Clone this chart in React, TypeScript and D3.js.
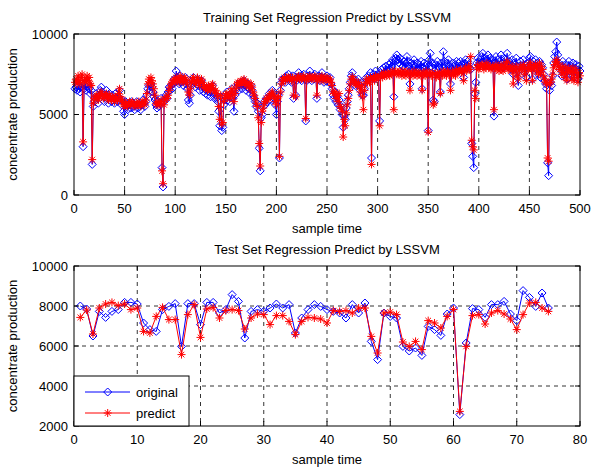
import React from "react";
import * as d3 from "d3";

// ---------- Training set (500 samples) ----------
const trainOriginal: number[] = [
  6600,6700,6500,6800,6600,6400,6700,6900,3000,6600,
  6800,6500,6700,6900,6600,6300,6500,1900,5500,5800,
  6000,6300,6100,5700,6200,6500,6700,6400,6100,5800,
  6200,6500,6000,5700,6300,6100,5800,6200,6000,5700,
  6300,6000,5800,6100,6500,5900,5600,5900,5200,5000,
  5800,5500,5300,5700,5600,5400,5800,5700,5500,5300,
  5600,5800,5400,5700,5500,5300,5600,5900,5700,5500,
  5800,6200,6600,6800,6500,6900,6700,6400,6100,5900,
  5600,5400,5800,5500,5700,6000,1700,500,5800,6000,
  6200,6000,6400,6700,6500,6800,6600,6900,7200,7000,
  7700,7300,7100,6900,7400,7000,7200,6800,7100,7300,
  6900,6600,5900,5700,6200,6800,7100,7300,7000,6700,
  7000,7200,6800,6500,7000,7100,6800,6400,6600,6300,
  6500,6200,6700,6400,6100,6500,6800,6300,6000,6200,
  6000,5800,5200,4300,6100,4000,4200,5600,5900,6100,
  6400,5900,6200,5800,6300,6600,6000,5200,6200,6500,
  6700,6900,6500,6800,7000,6600,6900,7100,6800,6500,
  6700,6900,6600,6300,6800,6500,6200,6000,5800,5500,
  5700,5200,2900,1500,4800,5000,5500,5800,5600,6000,
  5800,6100,6300,5900,6200,6500,6300,6000,5600,5000,
  5800,6200,2300,6500,7000,7200,7100,7300,7000,7400,
  7200,7500,7100,7300,7000,7400,6000,7200,6200,7100,
  7300,7600,7200,7400,7100,7300,7500,7200,4600,7100,
  7400,7200,7700,7300,7100,7400,7200,7500,7300,6000,
  7200,7400,7100,7300,7600,7200,7000,7300,7100,7400,
  7200,7000,7300,6900,6600,6200,6000,6400,5800,6100,
  5600,5900,5300,5500,5000,4200,4900,4700,5400,5800,
  6200,6600,7000,7400,7600,7200,7000,6800,7100,6900,
  7200,6800,6500,7000,6200,6200,6600,7000,7300,7100,
  7400,7200,7600,2300,7300,7500,7200,7700,7400,7500,
  7300,4600,7600,7800,7500,7900,7600,8000,7700,7900,
  8100,7800,8200,8000,8400,6100,8300,8500,8700,8400,
  8200,8500,8100,8400,8000,8300,7900,8200,8600,8300,
  8000,6900,8200,7800,8100,8400,8000,7700,8200,7900,
  8100,7800,8300,6600,7900,8200,8000,7700,8100,4000,
  8400,8800,8000,8200,5900,5800,8100,7800,8300,8000,
  7900,6400,8200,7900,8900,8300,8000,7800,8200,8400,
  8000,6900,7800,8200,8000,7700,8100,8300,7900,8200,
  8000,8300,8100,7900,7300,8200,8400,8000,8300,8100,
  7900,7800,3200,2400,1700,6300,7000,8200,8500,8100,
  8400,8200,8600,8800,8300,8500,8100,8400,8700,8200,
  8500,8300,8000,8400,4900,8200,8600,8100,8400,8000,
  8300,8700,8200,7900,8500,8100,8400,8800,8000,8300,
  8100,7800,8400,7500,8200,7900,8500,7300,6800,8000,
  8300,7800,8000,8400,7600,8100,7300,8200,8000,8500,
  8600,8000,7200,8300,7900,8400,7800,8200,7500,8300,
  7300,8100,7900,7500,7100,6900,6600,2000,1200,6500,
  7000,6800,7400,8200,8600,8900,9500,8700,8200,7800,
  8000,7400,8300,7800,7500,8100,7200,7900,8300,7700,
  8000,7500,8200,7300,7900,8100,7600,7200,8000,7700,
];

const trainPredict: number[] = [
  7000,7200,6900,7400,7100,6900,7300,7500,3300,7100,
  7200,7000,7400,7100,7300,6900,6800,2200,5700,6000,
  6100,6200,6000,5900,6100,6300,6400,6200,6000,6100,
  6200,6300,6000,5900,6200,6100,5900,6100,6000,5800,
  6100,6000,5900,6300,6600,6100,5800,5900,5600,5500,
  5700,5600,5500,5700,5800,5600,5700,5800,5600,5500,
  5600,5700,5600,5800,5600,5500,5700,5800,5700,5600,
  5900,6300,6900,7200,7000,7300,7100,6900,6600,6200,
  5700,5600,5800,5600,5700,5900,1500,700,5600,5900,
  6100,6000,6200,6500,6700,6900,7000,7100,7200,7000,
  7300,7100,7200,7000,7400,7200,7100,7000,7300,7200,
  7100,6900,6400,6200,6600,7000,7200,7300,7100,6900,
  7100,7300,7000,6800,7100,7200,7000,6700,6800,6600,
  6700,6500,6800,6700,6500,6800,6900,6600,6400,6500,
  6300,6100,5500,4700,6200,4400,4500,5800,6000,6200,
  6300,6100,6200,6000,6400,6600,6200,5800,6300,6600,
  6900,7000,6800,7000,7100,6900,7100,7200,7000,6800,
  6900,7000,6800,6600,6900,6700,6400,6200,6000,5700,
  5500,4800,3200,1800,4500,5200,5400,5700,5800,6000,
  5900,6000,6200,6100,6300,6400,6200,6100,5800,5600,
  6000,6100,2400,6400,6900,7200,7100,7300,7100,7300,
  7200,7300,7200,7300,7100,7300,6200,7200,6100,7200,
  7300,7400,7200,7300,7200,7300,7400,7200,4750,7200,
  7300,7200,7400,7300,7200,7300,7200,7400,7300,6200,
  7200,7300,7100,7300,7400,7200,7100,7300,7200,7300,
  7200,7100,7200,7000,6800,6400,6300,6400,6000,6200,
  5800,6300,5500,5400,5200,3600,4700,4300,5100,5600,
  6000,6500,6900,7200,7350,7200,7000,6900,7000,6800,
  7000,6700,6400,6800,6100,5300,6500,6900,7200,7000,
  7200,7000,7300,1900,7200,7300,7100,7400,7300,7300,
  7300,4300,7400,7500,7300,7600,7400,7500,7400,7600,
  7500,7400,7600,7500,7700,5300,7600,7700,7500,7600,
  7500,7700,7600,7400,7700,7500,7600,7400,7700,7500,
  7600,6500,7500,7600,7400,7700,7500,7600,7400,7600,
  7500,7600,7400,6500,7600,7500,7400,7700,7500,3900,
  7600,7500,7400,7600,5600,5700,7500,7300,7600,7400,
  7500,6300,7600,7400,7700,7500,7600,7400,7700,7600,
  7500,6500,7400,7700,7500,7600,7400,7800,7600,7700,
  7700,7800,7600,7700,7100,7800,7900,7700,7800,8000,
  7800,8600,3400,3000,2800,6500,6000,7900,8100,7800,
  7900,8000,8100,8100,7800,8000,7900,8200,8000,7900,
  8000,7800,7900,8000,5300,7900,8100,7800,8000,7700,
  7900,8100,7800,7700,8000,7900,8200,8300,7800,8000,
  7900,7700,8000,6900,7800,7700,8000,7400,7200,7700,
  8000,7800,7900,8100,7500,7900,7100,7900,7800,8100,
  8200,7800,7100,8000,7900,8100,7700,8000,7500,8200,
  7600,8000,7800,7400,7200,7000,6900,2300,2100,6900,
  7000,7200,7500,7900,8100,8300,8400,8200,8000,7800,
  7800,7500,8000,7600,7300,7900,7100,7700,7900,7600,
  7700,7200,7900,7100,7600,7800,7300,7000,7600,7400,
];

// ---------- Test set (75 samples) ----------
const testOriginal: number[] = [
  8000,7850,6500,7730,7430,7730,7820,8180,8180,8100,
  7150,6820,6730,7820,7980,8120,5980,8120,8120,7070,
  8180,8180,7650,7820,8570,8230,6400,7730,7820,7730,
  7900,8100,7900,8070,6650,7400,7820,8070,7980,7820,
  7730,7650,7400,8070,7650,8150,6230,5320,7650,7480,
  7400,5980,5750,5900,5530,6980,6820,6530,7600,7900,
  2570,6150,7870,7820,7430,8070,8070,8230,7600,7270,
  8770,8430,7980,8650,7900,
];
const testPredict: number[] = [
  7430,7800,6600,7900,8100,8180,8020,8100,7820,7900,
  6730,6650,7480,7930,7320,7320,5570,7570,8070,6430,
  7850,7920,7400,7770,7820,7770,6850,7400,7600,7570,
  7070,7520,7520,7230,6570,7230,7430,7400,7350,7150,
  7770,7730,7770,7650,7900,7900,6480,5650,7650,7700,
  7570,6200,5980,6230,5820,7270,7150,6900,7480,7820,
  2730,5980,7520,7570,7100,7650,7770,7600,7350,6820,
  7570,8150,8180,7900,7730,
];

const trainXTicks = [0, 50, 100, 150, 200, 250, 300, 350, 400, 450, 500];
const trainYTicks = [0, 5000, 10000];
const testXTicks = [0, 10, 20, 30, 40, 50, 60, 70, 80];
const testYTicks = [2000, 4000, 6000, 8000, 10000];

const FONT = "'Liberation Sans', Arial, Helvetica, sans-serif";
const BLUE = "#0000ff";
const RED = "#ff0000";

const diamondPath = (r: number) => `M0,${-r}L${r},0L0,${r}L${-r},0Z`;
const starPath = (r: number) => {
  const k = r * 0.7;
  return `M${-r},0L${r},0M0,${-r}L0,${r}M${-k},${-k}L${k},${k}M${-k},${k}L${k},${-k}`;
};

type PanelProps = {
  top: number;
  bottom: number;
  title: string;
  orig: number[];
  pred: number[];
  xDomain: [number, number];
  yDomain: [number, number];
  xTicks: number[];
  yTicks: number[];
  legend?: boolean;
  markerR: number;
};

function Panel({ top, bottom, title, orig, pred, xDomain, yDomain, xTicks, yTicks, legend, markerR }: PanelProps) {
  const left = 74;
  const right = 580;
  const x = d3.scaleLinear().domain(xDomain).range([left, right]);
  const y = d3.scaleLinear().domain(yDomain).range([bottom, top]);
  const line = d3
    .line<number>()
    .x((_, i) => x(i + 1))
    .y((d) => y(d));
  const tickLen = 5;
  const dash = "4,4";
  const sw = 1;
  return (
    <g>
      {xTicks
        .filter((t) => t !== xDomain[0] && t !== xDomain[1])
        .map((t) => (
          <line key={"gx" + t} x1={x(t)} x2={x(t)} y1={top} y2={bottom} stroke="#000" strokeWidth={0.8} strokeDasharray={dash} />
        ))}
      {yTicks
        .filter((t) => t !== yDomain[0] && t !== yDomain[1])
        .map((t) => (
          <line key={"gy" + t} x1={left} x2={right} y1={y(t)} y2={y(t)} stroke="#000" strokeWidth={0.8} strokeDasharray={dash} />
        ))}
      <path d={line(orig) || ""} fill="none" stroke={BLUE} strokeWidth={sw} />
      {orig.map((v, i) => (
        <path key={"o" + i} d={diamondPath(markerR)} transform={`translate(${x(i + 1)},${y(v)})`} fill="none" stroke={BLUE} strokeWidth={sw} />
      ))}
      <path d={line(pred) || ""} fill="none" stroke={RED} strokeWidth={sw} />
      {pred.map((v, i) => (
        <path key={"p" + i} d={starPath(markerR)} transform={`translate(${x(i + 1)},${y(v)})`} fill="none" stroke={RED} strokeWidth={sw} />
      ))}
      <rect x={left} y={top} width={right - left} height={bottom - top} fill="none" stroke="#000" strokeWidth={1} />
      {xTicks.map((t) => (
        <g key={"tx" + t}>
          <line x1={x(t)} x2={x(t)} y1={bottom} y2={bottom - tickLen} stroke="#000" />
          <line x1={x(t)} x2={x(t)} y1={top} y2={top + tickLen} stroke="#000" />
          <text x={x(t)} y={bottom + 18} textAnchor="middle" fontSize={13} fontFamily={FONT}>
            {t}
          </text>
        </g>
      ))}
      {yTicks.map((t) => (
        <g key={"ty" + t}>
          <line x1={left} x2={left + tickLen} y1={y(t)} y2={y(t)} stroke="#000" />
          <line x1={right} x2={right - tickLen} y1={y(t)} y2={y(t)} stroke="#000" />
          <text x={left - 6} y={y(t) + 4.5} textAnchor="end" fontSize={13} fontFamily={FONT}>
            {t}
          </text>
        </g>
      ))}
      <text x={(left + right) / 2} y={top - 12} textAnchor="middle" fontSize={13} fontFamily={FONT}>
        {title}
      </text>
      <text x={(left + right) / 2} y={bottom + 38} textAnchor="middle" fontSize={13} fontFamily={FONT}>
        sample time
      </text>
      <text
        transform={`translate(17,${(top + bottom) / 2}) rotate(-90)`}
        textAnchor="middle"
        fontSize={13}
        fontFamily={FONT}
      >
        concentrate production
      </text>
      {legend && (
        <g>
          <rect x={left} y={376} width={115} height={bottom - 376} fill="#fff" stroke="#000" strokeWidth={1} />
          <line x1={85} x2={130} y1={392} y2={392} stroke={BLUE} strokeWidth={sw} />
          <path d={diamondPath(markerR)} transform="translate(107.7,392)" fill="none" stroke={BLUE} strokeWidth={sw} />
          <text x={136} y={397} fontSize={13} fontFamily={FONT}>
            original
          </text>
          <line x1={85} x2={130} y1={413} y2={413} stroke={RED} strokeWidth={sw} />
          <path d={starPath(markerR)} transform="translate(107.7,413)" fill="none" stroke={RED} strokeWidth={sw} />
          <text x={136} y={418} fontSize={13} fontFamily={FONT}>
            predict
          </text>
        </g>
      )}
    </g>
  );
}

export default function App() {
  return (
    <svg
      width={591}
      height={468}
      style={{ position: "absolute", left: 0, top: 0, background: "#fff" }}
    >
      <rect x={0} y={0} width={591} height={468} fill="#fff" />
      <Panel
        top={34}
        bottom={195}
        title="Training Set Regression Predict by LSSVM"
        orig={trainOriginal}
        pred={trainPredict}
        xDomain={[0, 500]}
        yDomain={[0, 10000]}
        xTicks={trainXTicks}
        yTicks={trainYTicks}
        markerR={4}
      />
      <Panel
        top={266}
        bottom={426}
        title="Test Set Regression Predict by LSSVM"
        orig={testOriginal}
        pred={testPredict}
        xDomain={[0, 80]}
        yDomain={[2000, 10000]}
        xTicks={testXTicks}
        yTicks={testYTicks}
        legend
        markerR={4}
      />
    </svg>
  );
}
